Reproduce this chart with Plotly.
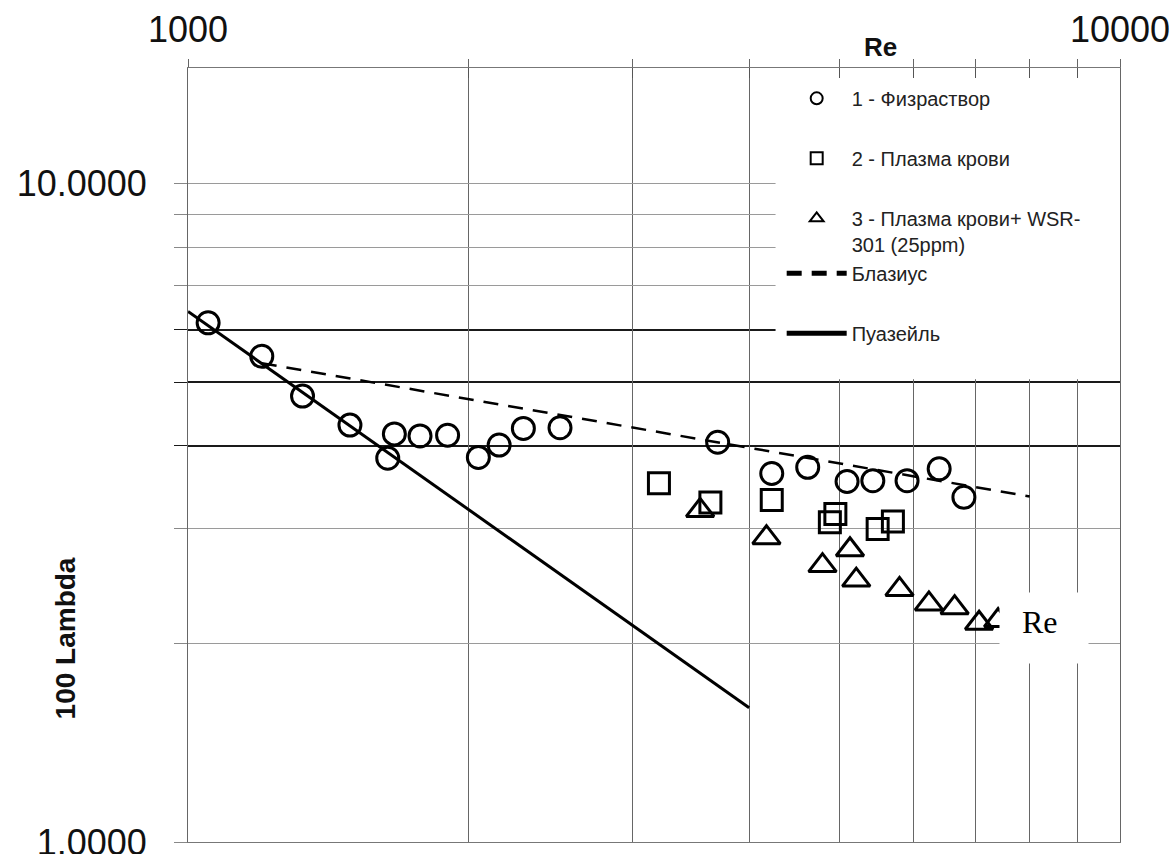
import math
import plotly.graph_objects as go

# ---- data ----
re_fiz = [1051, 1200, 1327, 1492, 1638, 1665, 1774, 1899, 2049, 2157, 2290, 2507,
          3701, 4230, 4623, 5095, 5430, 5909, 6397, 6800]
lam_fiz = [6.15, 5.47, 4.76, 4.30, 3.83, 4.17, 4.14, 4.15, 3.84, 4.01, 4.25, 4.26,
           4.05, 3.63, 3.71, 3.53, 3.54, 3.54, 3.69, 3.34]

re_plasma = [3201, 3635, 4230, 4883, 4950, 5495, 5706]
lam_plasma = [3.51, 3.28, 3.31, 3.06, 3.15, 2.99, 3.07]

re_wsr = [3544, 4175, 4795, 5132, 5212, 5800, 6237, 6646, 7060, 7400]
lam_wsr = [3.19, 2.90, 2.63, 2.78, 2.50, 2.42, 2.30, 2.27, 2.15, 2.17]

re_blasius = [1200, 8000]
lam_blasius = [5.34, 3.35]

re_poiseuille = [1000, 4000]
lam_poiseuille = [6.4, 1.6]

names = ["1 - Физраствор", "2 - Плазма крови", "3 - Плазма крови+ WSR-<br>301 (25ppm)",
         "Блазиус", "Пуазейль"]

x_ticks = [1000, 2000, 3000, 4000, 5000, 6000, 7000, 8000, 9000, 10000]
x_ticktext = ["1000", "", "", "", "", "", "", "", "", "10000"]
y_major = [1, 2, 3, 7, 8, 9, 10]
y_major_text = ["1.0000", "", "", "", "", "", "10.0000"]
y_dark = [4, 5, 6]
y_max = 15

# legend panel extent (data units)
panel_x = [4270, 10000]
panel_y = [5.05, 15]

FONT = "Liberation Sans, Arial, sans-serif"

fig = go.Figure()

fig.add_trace(go.Scatter(x=re_blasius, y=lam_blasius, mode="lines", name=names[3],
                         legendrank=4, legendgroup="g3",
                         line=dict(color="black", width=2.5, dash="15px,10px")))
fig.add_trace(go.Scatter(x=re_poiseuille, y=lam_poiseuille, mode="lines", name=names[4],
                         legendrank=5, legendgroup="g5",
                         line=dict(color="black", width=3)))
fig.add_trace(go.Scatter(x=re_fiz, y=lam_fiz, mode="markers", name=names[0],
                         legendrank=1, legendgroup="g1",
                         marker=dict(symbol="circle-open", size=22, color="black",
                                     line=dict(width=3))))
fig.add_trace(go.Scatter(x=re_plasma, y=lam_plasma, mode="markers", name=names[1],
                         legendrank=2, legendgroup="g2",
                         marker=dict(symbol="square-open", size=21, color="black",
                                     line=dict(width=3))))
fig.add_trace(go.Scatter(x=re_wsr, y=lam_wsr, mode="markers", name=names[2],
                         legendrank=3, legendgroup="g3",
                         marker=dict(symbol="triangle-up-open", size=24, color="black",
                                     line=dict(width=3))))
# invisible copy on the secondary top axis so its inner tick stubs are drawn
fig.add_trace(go.Scatter(x=re_poiseuille, y=lam_poiseuille, xaxis="x2", yaxis="y",
                         mode="lines", line=dict(width=0, color="rgba(0,0,0,0)"),
                         showlegend=False, hoverinfo="skip"))

fig.update_layout(
    width=1175, height=854,
    margin=dict(l=188, r=55, t=68, b=12, autoexpand=False),
    paper_bgcolor="white", plot_bgcolor="white",
    font=dict(family=FONT, color="#111"),
    showlegend=True,
    legend=dict(x=0.637, y=0.986, xanchor="left", yanchor="top",
                bgcolor="rgba(0,0,0,0)", font=dict(size=20, family=FONT, color="#222"),
                itemwidth=60, itemsizing="constant", tracegroupgap=31, valign="top",
                traceorder="grouped"),
    xaxis=dict(type="log", range=[3, 4], side="top",
               tickmode="array", tickvals=x_ticks, ticktext=x_ticktext,
               ticks="outside", ticklen=8, tickcolor="#666",
               tickfont=dict(size=36, family=FONT, color="#111"),
               ticklabelstandoff=3, ticklabeloverflow="allow",
               showgrid=True, gridcolor="#666", gridwidth=1,
               showline=True, linecolor="#777", linewidth=1, mirror=True,
               zeroline=False, automargin=False),
    xaxis2=dict(type="log", range=[3, 4], overlaying="x", side="top", anchor="y",
                tickmode="array", tickvals=x_ticks[1:-1], layer="above traces",
                ticks="inside", ticklen=10, tickcolor="#555", tickwidth=1,
                showticklabels=False, showgrid=False, showline=False, zeroline=False,
                automargin=False),
    yaxis=dict(type="log", range=[0, math.log10(y_max)],
               tickmode="array", tickvals=y_major, ticktext=y_major_text,
               ticks="outside", ticklen=13, tickcolor="#888",
               tickfont=dict(size=36, family=FONT, color="#111"),
               ticklabelstandoff=20, ticklabeloverflow="allow",
               showgrid=True, gridcolor="#9a9a9a", gridwidth=1,
               minor=dict(tickmode="array", tickvals=y_dark, showgrid=True,
                          gridcolor="#1a1a1a", gridwidth=1.6,
                          ticks="outside", ticklen=13, tickcolor="#1a1a1a"),
               showline=True, linecolor="#666", linewidth=1, mirror=True,
               zeroline=False, automargin=False),
)

# white legend panel (covers grid, under the data)
fig.add_shape(type="rect", xref="x", yref="y",
              x0=panel_x[0], x1=panel_x[1], y0=panel_y[0], y1=panel_y[1],
              fillcolor="white", line=dict(width=0), layer="between")

fig.add_annotation(text="<b>Re</b>", xref="paper", yref="paper", x=0.7425, y=1.027,
                   xanchor="center", yanchor="middle", showarrow=False,
                   font=dict(size=26, family=FONT, color="#111"))
fig.add_annotation(text="<b>100 Lambda</b>", xref="paper", yref="paper", x=-0.132, y=0.263,
                   xanchor="center", yanchor="middle", showarrow=False, textangle=-90,
                   font=dict(size=28, family=FONT, color="#111"))
# white box with serif "Re"
fig.add_annotation(text=" ", xref="paper", yref="paper", x=0.870, y=0.323,
                   xanchor="left", yanchor="top", showarrow=False,
                   width=88, height=70, borderpad=0, bgcolor="white",
                   font=dict(size=10))
fig.add_annotation(text="Re", xref="paper", yref="paper", x=0.8925, y=0.2845,
                   xanchor="left", yanchor="middle", showarrow=False,
                   font=dict(size=32, family="Liberation Serif, Times New Roman, serif",
                             color="black"))

fig.write_html("out.html")
